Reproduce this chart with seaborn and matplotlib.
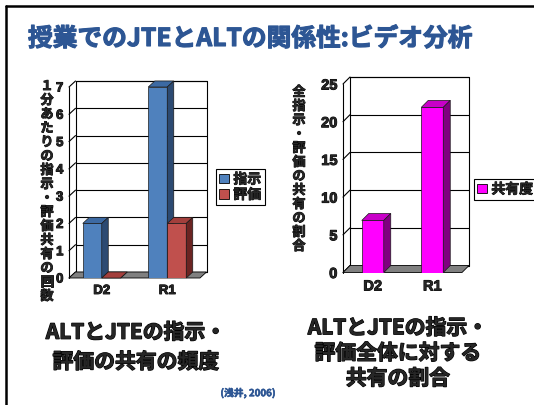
import matplotlib
matplotlib.use("Agg")
import matplotlib.pyplot as plt
import matplotlib.patheffects as pe
import pandas as pd
import seaborn as sns
from matplotlib.patches import Polygon, Rectangle
from matplotlib.lines import Line2D

# ---- data -------------------------------------------------------------
categories = ["D2", "R1"]
left_series = ["指示", "評価"]
shiji_values = [2.0, 7.0]      # 指示
hyouka_values = [0.0, 2.0]     # 評価
right_series = ["共有度"]
kyouyuu_values = [6.9, 21.9]   # 共有度
left_ticks = [0, 1, 2, 3, 4, 5, 6, 7]
right_ticks = [0, 5, 10, 15, 20, 25]

title = "授業でのJTEとALTの関係性:ビデオ分析"
left_ylabel = "１分あたりの指示・評価共有の回数"
right_ylabel = "全指示・評価の共有の割合"
left_caption = "ALTとJTEの指示・\n評価の共有の頻度"
right_caption = "ALTとJTEの指示・\n評価全体に対する\n共有の割合"
source = "(浅井, 2006)"

# ---- style ------------------------------------------------------------
sns.set_theme(style="white")
plt.rcParams["font.family"] = ["Noto Sans CJK JP", "DejaVu Sans"]

BLUE = ("#4F81BD", "#2C4A72", "#3D6AA3")      # front, side, top
RED = ("#C0504D", "#6B2422", "#A33F3C")
MAGENTA = ("#FF00FF", "#800080", "#C800C8")
TITLE_BLUE = "#2D5694"
TICK_FONT = {"family": "Liberation Sans", "weight": "bold"}


def heavy(width, color="black"):
    """Stroke that thickens glyphs for a heavy gothic look."""
    return [pe.withStroke(linewidth=width, foreground=color)]


W, H = 534, 406
fig = plt.figure(figsize=(W / 100, H / 100), dpi=100)


def box(left, right, top, bottom):
    """Axes rectangle from pixel edges (y measured from the top)."""
    return [left / W, 1 - bottom / H, (right - left) / W, (bottom - top) / H]


def draw_chart(ax, df, palette, width, ymax, ticks, dx_px, dy_px, tick_size):
    sns.barplot(data=df, x="cat", y="value", hue="series", palette=[p[0] for p in palette],
                width=width, ax=ax, legend=False, saturation=1,
                edgecolor="#1A1A1A", linewidth=0.5)
    bars = list(ax.patches)
    ax.set_xlim(-0.5, 1.5)
    ax.set_ylim(0, ymax)
    ax.set_facecolor("none")
    for s in ax.spines.values():
        s.set_visible(False)
    ax.grid(False)
    ax.set_xlabel("")
    ax.set_ylabel("")

    bb = ax.get_position()
    px_x = bb.width * W / 2.0
    px_y = bb.height * H / ymax
    dx, dy = dx_px / px_x, dy_px / px_y
    x0, x1 = -0.5, 1.5

    # back wall with gridlines
    ax.add_patch(Rectangle((x0 + dx, dy), x1 - x0, ymax, facecolor="white",
                           edgecolor="black", linewidth=0.8, zorder=0.5, clip_on=False))
    for t in ticks:
        ax.add_line(Line2D([x0 + dx, x1 + dx], [t + dy, t + dy], color="black",
                           linewidth=0.8, zorder=0.6, clip_on=False))
        ax.add_line(Line2D([x0, x0 + dx], [t, t + dy], color="black",
                           linewidth=0.8, zorder=0.6, clip_on=False))
    ax.add_line(Line2D([x0, x0], [0, ymax], color="black", linewidth=0.8,
                       zorder=0.6, clip_on=False))
    # floor
    ax.add_patch(Polygon([(x0, 0), (x1, 0), (x1 + dx, dy), (x0 + dx, dy)],
                         closed=True, facecolor="#808080", edgecolor="black",
                         linewidth=0.6, zorder=0.7, clip_on=False))

    # side and top faces for every bar
    n_cat = len(df["cat"].unique())
    for i, bar in enumerate(bars):
        hue_idx = i // n_cat
        _, side_c, top_c = palette[hue_idx]
        z = 3 + 2 * hue_idx
        bx, bw, bh = bar.get_x(), bar.get_width(), bar.get_height()
        bar.set_zorder(z)
        ax.add_patch(Polygon([(bx, bh), (bx + bw, bh), (bx + bw + dx, bh + dy), (bx + dx, bh + dy)],
                             closed=True, facecolor=top_c, edgecolor="#1A1A1A",
                             linewidth=0.5, zorder=z, clip_on=False))
        ax.add_patch(Polygon([(bx + bw, 0), (bx + bw + dx, dy), (bx + bw + dx, bh + dy), (bx + bw, bh)],
                             closed=True, facecolor=side_c, edgecolor="#1A1A1A",
                             linewidth=0.5, zorder=z, clip_on=False))

    ax.set_yticks(ticks)
    ax.set_yticklabels([str(t) for t in ticks], fontdict=TICK_FONT, fontsize=tick_size)
    ax.set_xticks(range(len(categories)))
    ax.set_xticklabels(categories, fontdict=TICK_FONT, fontsize=tick_size)
    for lab in ax.get_xticklabels() + ax.get_yticklabels():
        lab.set_path_effects(heavy(0.7))
    ax.tick_params(axis="y", length=0, pad=4)
    ax.tick_params(axis="x", length=0, pad=5)


# ---- left chart: 指示 / 評価 ------------------------------------------------
df_left = pd.DataFrame({
    "cat": categories * 2,
    "series": [left_series[0]] * len(categories) + [left_series[1]] * len(categories),
    "value": shiji_values + hyouka_values,
})
ax_l = fig.add_axes(box(69, 200, 88, 279))
draw_chart(ax_l, df_left, [BLUE, RED], 0.58, 7, left_ticks, 6.5, 6, 9.5)

# ---- right chart: 共有度 ---------------------------------------------------
df_right = pd.DataFrame({
    "cat": categories,
    "series": right_series * len(categories),
    "value": kyouyuu_values,
})
ax_r = fig.add_axes(box(343, 462, 85, 273.5))
draw_chart(ax_r, df_right, [MAGENTA], 0.37, 25, right_ticks, 7, 7, 10.5)

# ---- legends ----------------------------------------------------------
def legend_at(x_px, y_px, labels, colors):
    handles = [Rectangle((0, 0), 1, 1, facecolor=c, edgecolor="black", linewidth=0.6)
               for c in colors]
    leg = fig.legend(handles, labels, loc="upper left",
                     bbox_to_anchor=(x_px / W, 1 - y_px / H), bbox_transform=fig.transFigure,
                     frameon=True, fancybox=False, framealpha=1, edgecolor="black",
                     handlelength=0.7, handleheight=0.7, handletextpad=0.3,
                     borderpad=0.25, labelspacing=0.1, borderaxespad=0,
                     prop={"weight": "bold", "size": 10})
    leg.get_frame().set_linewidth(0.8)
    for txt in leg.get_texts():
        txt.set_path_effects(heavy(0.6))
    return leg


legend_at(216, 170, left_series, [BLUE[0], RED[0]])
legend_at(474, 180, right_series, [MAGENTA[0]])

# ---- texts ------------------------------------------------------------
fig.text(28 / W, 1 - 40 / H, title, fontsize=17.8, fontweight="bold",
         color=TITLE_BLUE, ha="left", va="center", path_effects=heavy(0.8, TITLE_BLUE))

fig.text(47 / W, 1 - 80 / H, "\n".join(left_ylabel), fontsize=9.5, fontweight="bold",
         ha="center", va="top", linespacing=1.0, path_effects=heavy(0.6))
fig.text(299 / W, 1 - 86 / H, "\n".join(right_ylabel), fontsize=9.5, fontweight="bold",
         ha="center", va="top", linespacing=1.0, path_effects=heavy(0.6))

fig.text(136 / W, 1 - 348 / H, left_caption, fontsize=15, fontweight="bold",
         ha="center", va="center", linespacing=1.5, path_effects=heavy(0.9))
fig.text(398 / W, 1 - 354 / H, right_caption, fontsize=15, fontweight="bold",
         ha="center", va="center", linespacing=1.25, path_effects=heavy(0.9))
fig.text(248 / W, 1 - 394 / H, source, fontsize=7, fontweight="bold",
         color=TITLE_BLUE, ha="center", va="center", path_effects=heavy(0.4, TITLE_BLUE))

# slide frame
fig.add_artist(Line2D([6 / W, 6 / W], [0, 1 - 7 / H], color="black", linewidth=1.8,
                      transform=fig.transFigure))
fig.add_artist(Line2D([6 / W, 1], [1 - 7 / H, 1 - 7 / H], color="black", linewidth=1.8,
                      transform=fig.transFigure))

fig.savefig("out.png", dpi=100, facecolor="white")
